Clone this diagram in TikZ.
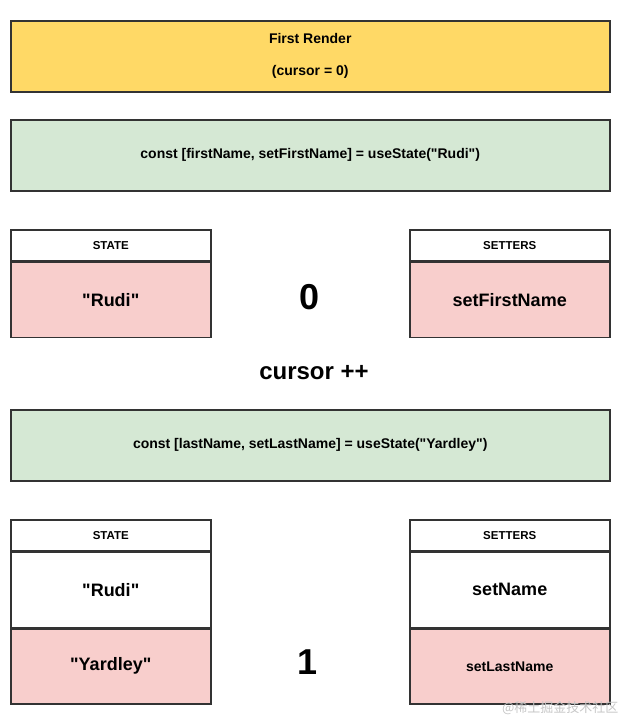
\documentclass[tikz,border=0pt]{standalone}
\usepackage{fontspec}
\setmainfont{Liberation Sans}[Ligatures=TeXOff]
\newfontfamily\cjk{Noto Sans CJK SC}
\usepackage{xcolor}
\usepackage{tikz}
\usetikzlibrary{positioning}
\definecolor{renderyellow}{HTML}{FFD966}
\definecolor{hookgreen}{HTML}{D5E8D4}
\definecolor{slotred}{HTML}{F8CECC}
\definecolor{edgegray}{HTML}{333333}
\newcommand{\px}[1]{\fontsize{#1}{#1}\selectfont\bfseries}
\tikzset{
	box/.style={draw=edgegray,line width=1.5pt,rectangle,inner sep=0pt,align=center,anchor=north west},
	wide/.style={box,minimum width=599pt,minimum height=71pt,font=\px{14}},
	head/.style={box,minimum width=200pt,minimum height=31pt,fill=white,font=\px{11.5}},
	cell/.style={box,anchor=north,minimum width=200pt,minimum height=75pt,font=\px{18}},
	big/.style={font=\px{36}}
}
\begin{document}
\begin{tikzpicture}[x=1pt,y=-1pt]
		\useasboundingbox (0,0) rectangle (630,720);
		\node[wide,fill=renderyellow] (render) at (10,20) {\fontsize{14}{16}\selectfont First Render\\[18pt](cursor = 0)};
		\node[wide,fill=hookgreen] (hookA) at (10,119) {const [firstName, setFirstName] = useState("Rudi")};
		\node[head] (stateA) at (10,229) {STATE};
		\node[cell,fill=slotred,below=0pt of stateA] (stateAa) {"Rudi"};
		\node[head] (setA) at (409,229) {SETTERS};
		\node[cell,fill=slotred,below=0pt of setA] (setAa) {setFirstName};
		\node[big] (cursorA) at (310,297) {0};
		\node[font=\px{24}] (inc) at (314,373) {cursor ++};
		\node[wide,fill=hookgreen] (hookB) at (10,409) {const [lastName, setLastName] = useState("Yardley")};
		\node[head] (stateB) at (10,519) {STATE};
		\node[cell,fill=white,below=0pt of stateB] (stateBa) {"Rudi"};
		\node[cell,fill=slotred,below=0pt of stateBa] (stateBb) {"Yardley"};
		\node[head] (setB) at (409,519) {SETTERS};
		\node[cell,fill=white,below=0pt of setB] (setBa) {setName};
		\node[cell,fill=slotred,below=0pt of setBa,font=\px{14}] (setBb) {setLastName};
		\node[big] (cursorB) at (308,662) {1};
		\node[text=gray!45,font=\cjk\fontsize{13}{13}\selectfont,anchor=east] (mark) at (622,708) {@稀土掘金技术社区};
	\end{tikzpicture}
\end{document}
